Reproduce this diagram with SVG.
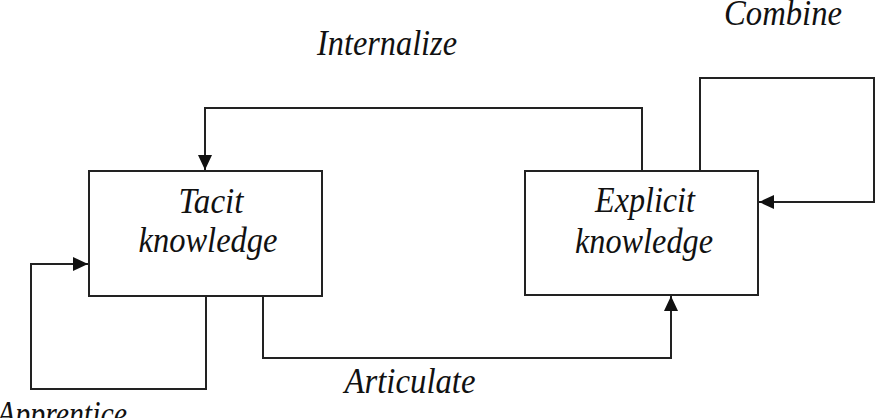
<svg xmlns="http://www.w3.org/2000/svg" width="888" height="418" viewBox="0 0 888 418">
<style>
.box{fill:#fff;stroke:#222;stroke-width:2}
.c{fill:none;stroke:#222;stroke-width:2}
text{font-family:"Liberation Serif","Times New Roman",serif;font-style:italic;font-size:35px;fill:#111;text-anchor:middle}
</style>
<defs>
<marker id="a" viewBox="0 0 15 14" refX="15" refY="7" markerWidth="15" markerHeight="14" markerUnits="userSpaceOnUse" orient="auto">
<path d="M0,0 L15,7 L0,14 Z" fill="#111"/>
</marker>
</defs>
<rect width="888" height="418" fill="#fff"/>
<g id="tacit">
<rect class="box" x="89" y="171" width="233" height="125"/>
<text x="211" y="213" textLength="65" lengthAdjust="spacingAndGlyphs">Tacit</text>
<text x="208" y="252" textLength="139" lengthAdjust="spacingAndGlyphs">knowledge</text>
</g>
<g id="explicit">
<rect class="box" x="525" y="171" width="233" height="124"/>
<text x="645" y="212" textLength="100" lengthAdjust="spacingAndGlyphs">Explicit</text>
<text x="644" y="253" textLength="138" lengthAdjust="spacingAndGlyphs">knowledge</text>
</g>
<g id="connectors">
<polyline class="c" points="642,171 642,108 205,108 205,170" marker-end="url(#a)"/>
<polyline class="c" points="700,171 700,78 874,78 874,202 759,202" marker-end="url(#a)"/>
<polyline class="c" points="206,296 206,389 31,389 31,264 88,264" marker-end="url(#a)"/>
<polyline class="c" points="263,296 263,358 671,358 671,296" marker-end="url(#a)"/>
<text x="387" y="55" textLength="140" lengthAdjust="spacingAndGlyphs">Internalize</text>
<text x="783" y="25" textLength="118" lengthAdjust="spacingAndGlyphs">Combine</text>
<text x="410" y="393" textLength="131" lengthAdjust="spacingAndGlyphs">Articulate</text>
<text x="62" y="426" textLength="130" lengthAdjust="spacingAndGlyphs">Apprentice</text>
</g>
</svg>
